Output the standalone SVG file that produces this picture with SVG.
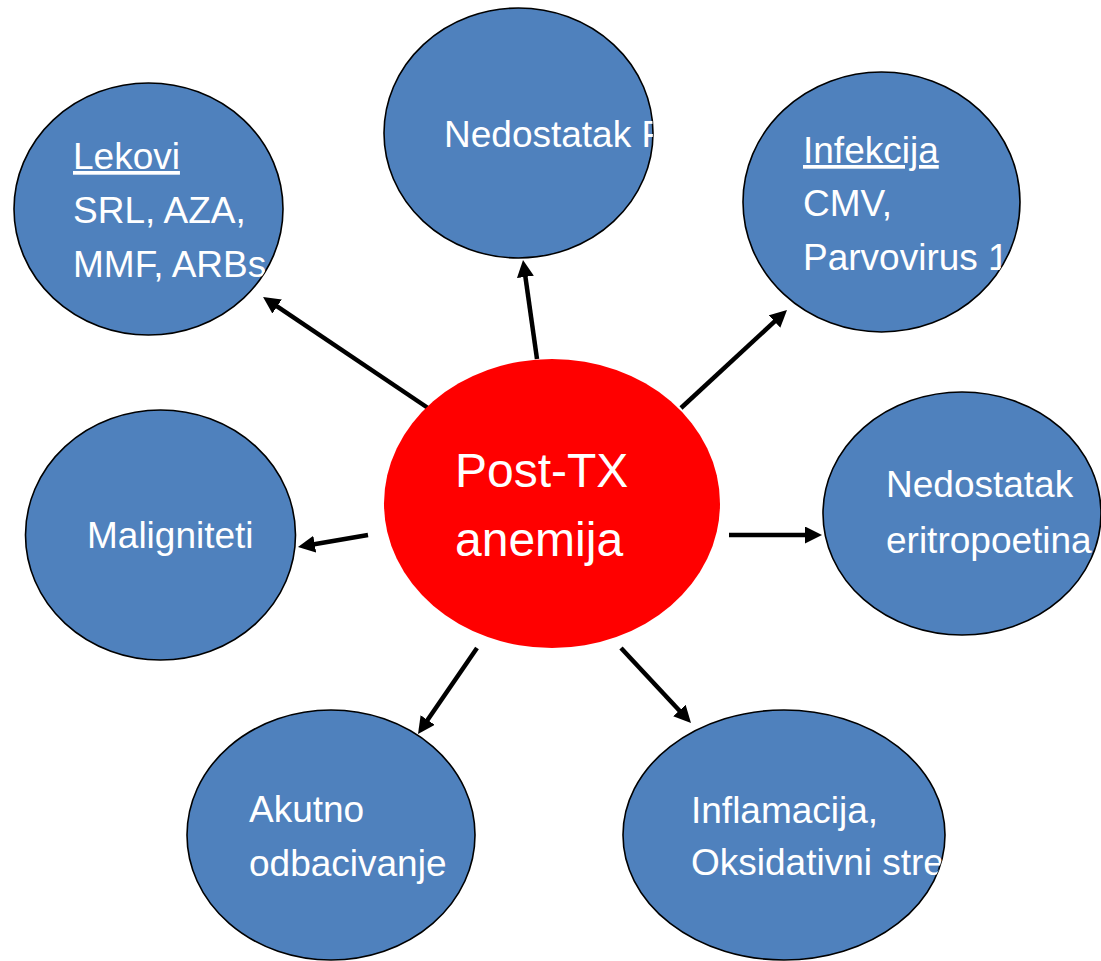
<svg xmlns="http://www.w3.org/2000/svg" width="1101" height="961" viewBox="0 0 1101 961">
<style>
.node{fill:#4F81BD;stroke:#000;stroke-width:1.6}
.t{font-family:"Liberation Sans",Arial,sans-serif;font-size:37px;fill:#fff}
.big{font-family:"Liberation Sans",Arial,sans-serif;font-size:48px;fill:#fff}
.c{stroke:#000;stroke-width:4.5;fill:none;marker-end:url(#ah)}
</style>
<defs>
<marker id="ah" markerUnits="userSpaceOnUse" viewBox="0 0 17 17" markerWidth="17" markerHeight="17" refX="5" refY="8.5" orient="auto">
<path d="M0,0 L17,8.5 L0,17 z" fill="#000"/>
</marker>
<clipPath id="c1"><ellipse cx="148.5" cy="209" rx="134.5" ry="126"/></clipPath>
<clipPath id="c2"><ellipse cx="518.5" cy="133" rx="134.5" ry="125"/></clipPath>
<clipPath id="c3"><ellipse cx="881.5" cy="202" rx="138.5" ry="130"/></clipPath>
<clipPath id="c4"><ellipse cx="962" cy="513.5" rx="139" ry="121.5"/></clipPath>
<clipPath id="c5"><ellipse cx="160.5" cy="535" rx="135" ry="125"/></clipPath>
<clipPath id="c6"><ellipse cx="331" cy="835" rx="144" ry="125"/></clipPath>
<clipPath id="c7"><ellipse cx="784" cy="835" rx="161" ry="125"/></clipPath>
</defs>
<rect width="1101" height="961" fill="#fff"/>
<g id="connectors">
<line class="c" x1="428" y1="408" x2="273" y2="303.7"/>
<line class="c" x1="537" y1="359" x2="524.7" y2="271.9"/>
<line class="c" x1="681" y1="408" x2="778.2" y2="318.1"/>
<line class="c" x1="368" y1="535" x2="309.8" y2="545"/>
<line class="c" x1="729" y1="535" x2="810" y2="535"/>
<line class="c" x1="477" y1="648" x2="424.8" y2="724.1"/>
<line class="c" x1="621" y1="648" x2="682.8" y2="714.2"/>
</g>
<g id="center">
<ellipse cx="552" cy="503.5" rx="168" ry="144.5" fill="#FF0000"/>
<text class="big" x="455" y="487">Post-TX</text>
<text class="big" x="455" y="556">anemija</text>
</g>
<g id="lekovi">
<ellipse class="node" cx="148.5" cy="209" rx="134.5" ry="126"/>
<g clip-path="url(#c1)">
<text class="t" x="73" y="169" text-decoration="underline">Lekovi</text>
<text class="t" x="73" y="223">SRL, AZA,</text>
<text class="t" x="73" y="277">MMF, ARBs</text>
</g>
</g>
<g id="nedostatak-f">
<ellipse class="node" cx="518.5" cy="133" rx="134.5" ry="125"/>
<g clip-path="url(#c2)">
<text class="t" x="444" y="147">Nedostatak Fe</text>
</g>
</g>
<g id="infekcija">
<ellipse class="node" cx="881.5" cy="202" rx="138.5" ry="130"/>
<g clip-path="url(#c3)">
<text class="t" x="803" y="163" text-decoration="underline">Infekcija</text>
<text class="t" x="803" y="216">CMV,</text>
<text class="t" x="803" y="270">Parvovirus 19</text>
</g>
</g>
<g id="eritropoetin">
<ellipse class="node" cx="962" cy="513.5" rx="139" ry="121.5"/>
<g clip-path="url(#c4)">
<text class="t" x="886" y="497">Nedostatak</text>
<text class="t" x="886" y="553">eritropoetina</text>
</g>
</g>
<g id="maligniteti">
<ellipse class="node" cx="160.5" cy="535" rx="135" ry="125"/>
<g clip-path="url(#c5)">
<text class="t" x="87" y="548">Maligniteti</text>
</g>
</g>
<g id="akutno">
<ellipse class="node" cx="331" cy="835" rx="144" ry="125"/>
<g clip-path="url(#c6)">
<text class="t" x="249" y="822">Akutno</text>
<text class="t" x="249" y="876">odbacivanje</text>
</g>
</g>
<g id="inflamacija">
<ellipse class="node" cx="784" cy="835" rx="161" ry="125"/>
<g clip-path="url(#c7)">
<text class="t" x="691" y="823">Inflamacija,</text>
<text class="t" x="691" y="875">Oksidativni stres</text>
</g>
</g>
</svg>
